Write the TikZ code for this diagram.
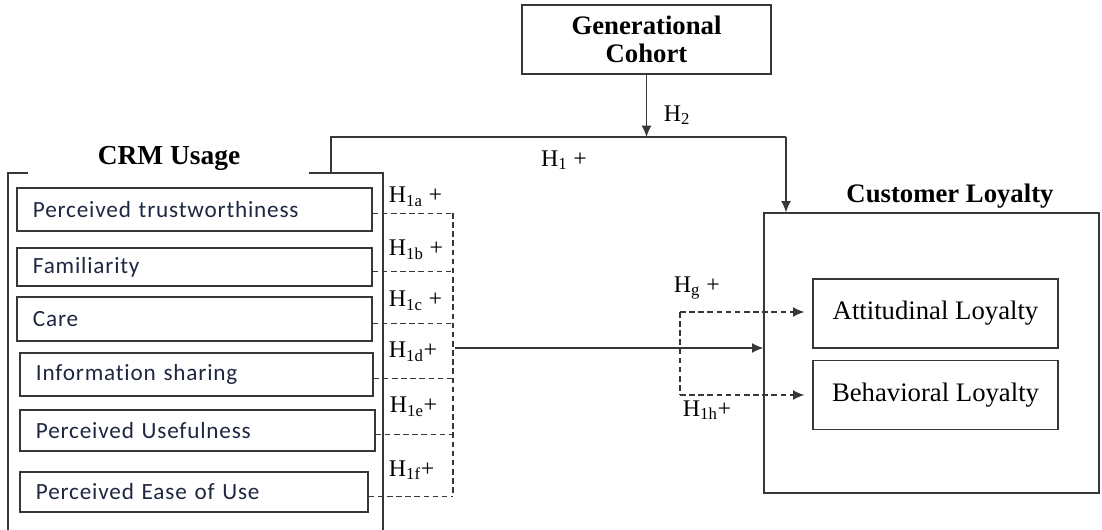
\documentclass[tikz,border=0pt]{standalone}
\usepackage{fontspec}
\setmainfont{Liberation Serif}
\newfontfamily\boxfont[LetterSpace=3.5, Ligatures={NoCommon}]{Carlito}
\usetikzlibrary{arrows.meta,positioning}
\definecolor{linegray}{RGB}{55,55,55}
\definecolor{boxtext}{RGB}{30,38,66}

\begin{document}
\begin{tikzpicture}[x=0.025cm, y=-0.025cm,
  every node/.style={font=\fontsize{17}{19}\selectfont},
  title/.style={font=\fontsize{19}{20}\selectfont\bfseries, align=center},
  frame/.style={draw=linegray, line width=0.9pt},
  crmbox/.style 2 args={frame, text width=#1, minimum height=#2, inner xsep=0.4cm,
    align=left, text=boxtext, font=\boxfont\fontsize{16.5}{18}\selectfont},
  loybox/.style={frame, minimum width=6.125cm, minimum height=1.72cm,
    font=\fontsize{19}{21}\selectfont},
  solidarrow/.style={draw=linegray, line width=0.9pt, -{Latex[length=8pt,width=7pt]}},
  dashline/.style={draw=linegray, line width=0.9pt, dash pattern=on 4pt off 2.5pt},
  dasharrow/.style={dashline, -{Latex[length=8pt,width=7pt]}}]
\useasboundingbox (0,0) rectangle (1102,530);

% moderator
\node[frame, title, minimum width=6.225cm, minimum height=1.725cm] (gen) at (646.5,39.5)
  {Generational\\Cohort};

% CRM usage dimensions
\node[font=\fontsize{19.5}{21}\selectfont\bfseries] (crmt) at (169,158) {CRM Usage};
\draw[frame] (28,173) -- (8,173) -- (8,531);
\draw[frame] (309,173) -- (383,173) -- (383,531);
\node[crmbox={8.075cm}{1.075cm}] (trust) at (194.5,209.5) {Perceived trustworthiness};
\node[crmbox={8.075cm}{0.95cm}] (fam) at (194.5,267) {Familiarity};
\node[crmbox={8.075cm}{1.1cm}] (care) at (194.5,319) {Care};
\node[crmbox={8.025cm}{1.075cm}] (info) at (196.5,374.5) {Information sharing};
\node[crmbox={8.075cm}{1.025cm}] (useful) at (197.5,430.5) {Perceived Usefulness};
\node[crmbox={7.9cm}{1cm}] (ease) at (194,492) {Perceived Ease of Use};

% customer loyalty
\node[frame, minimum width=8.375cm, minimum height=7cm] (cl) at (931.5,353) {};
\node[title] (clt) at (950,196) {Customer Loyalty};
\node[loybox] (att) at (935.5,313.5) {Attitudinal Loyalty};
\node[loybox] (beh) at (935.5,395) {Behavioral Loyalty};

% bus lines
\coordinate (bus) at (453,213);
\coordinate (crmtop) at (331,173);
\coordinate (tl) at (331,137);
\coordinate (tr) at (786,137);
\coordinate (h1d) at (455,348);
\coordinate (split) at (680,312);

\foreach \n in {trust,fam,care,info,useful,ease}
  \draw[dashline] ([yshift=-3pt]\n.east) -- ([yshift=-3pt]\n.east -| bus);
\draw[dashline] (bus) -- ([yshift=-3pt]ease.east -| bus);

\draw[draw=linegray, line width=0.9pt] (crmtop) -- (tl) -- (tr);
\draw[solidarrow] (tr) -- (tr |- cl.north);
\draw[solidarrow] (gen.south) -- (gen.south |- tl);
\draw[solidarrow] (h1d) -- (h1d -| cl.west);

\draw[dashline] (split) -- (split |- beh.west);
\draw[dasharrow, shorten >=0.2cm] (split) -- (split -| att.west);
\draw[dasharrow, shorten >=0.2cm] (split |- beh.west) -- (beh.west);

% hypothesis labels
\node (h2) at (677,115) {H\textsubscript{2}};
\node (h1) at (564,160) {H\textsubscript{1} +};
\node[anchor=west] (h1a) at (384,197) {H\textsubscript{1a} +};
\node[anchor=west] (h1b) at (384,250) {H\textsubscript{1b} +};
\node[anchor=west] (h1c) at (384,301) {H\textsubscript{1c} +};
\node[anchor=west] (h1dl) at (384,352) {H\textsubscript{1d}+};
\node[anchor=west] (h1e) at (385,407) {H\textsubscript{1e}+};
\node[anchor=west] (h1f) at (384,470) {H\textsubscript{1f}+};
\node[anchor=west] (hg) at (669,288) {H\textsubscript{g} +};
\node[anchor=west] (h1h) at (678,410) {H\textsubscript{1h}+};
\end{tikzpicture}
\end{document}
